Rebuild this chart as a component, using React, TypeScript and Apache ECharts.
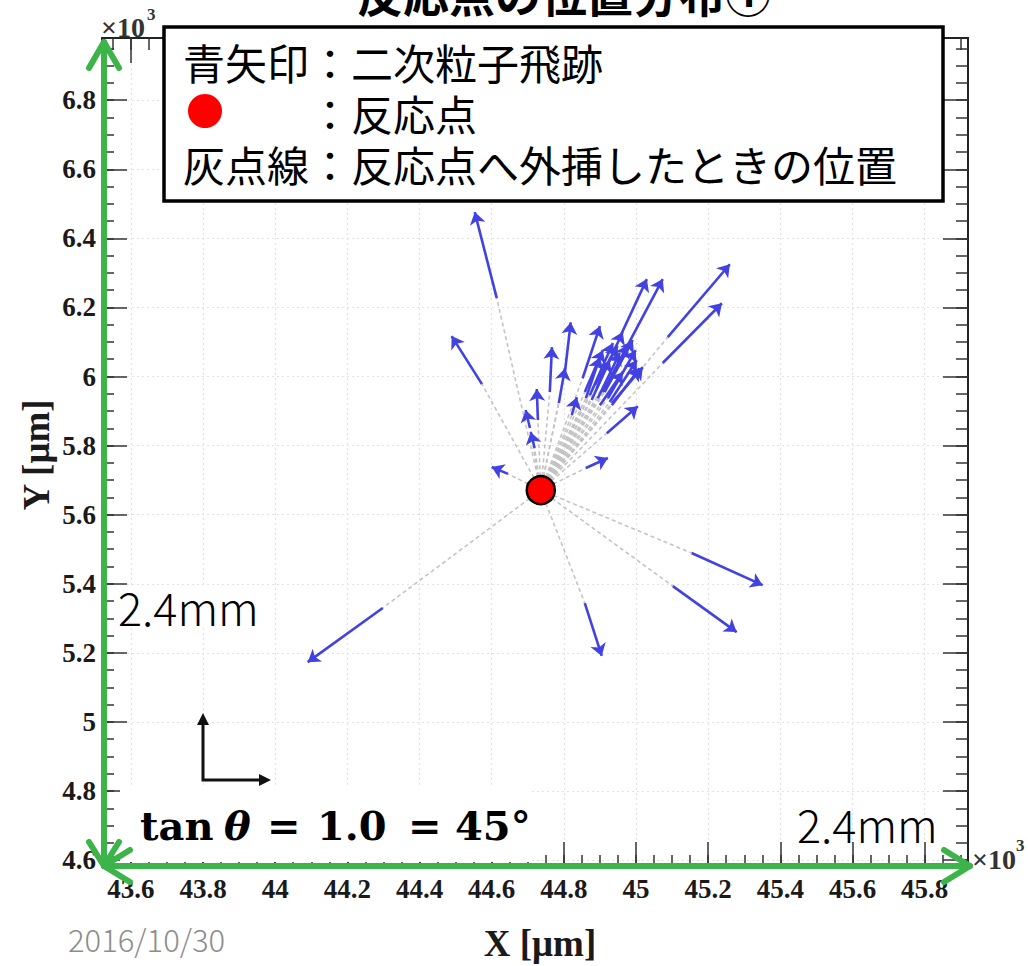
import React, { useEffect, useRef } from "react";
import * as echarts from "echarts";

// Axis ticks (x and y in units of 10^3 µm)
const xMajor = [43.6, 43.8, 44, 44.2, 44.4, 44.6, 44.8, 45, 45.2, 45.4, 45.6, 45.8];
const yMajor = [4.6, 4.8, 5, 5.2, 5.4, 5.6, 5.8, 6, 6.2, 6.4, 6.6, 6.8];
const xRange = [43.52, 45.92];
const yRange = [4.58, 6.98];

// Reaction vertex
const reactionPoint = [44.736, 5.671];

// Secondary-particle tracks: tail (start) and head (end) of each arrow
const tailX = [44.614, 44.573, 44.645, 44.861, 44.298, 44.858, 45.102, 45.154, 45.088, 45.074, 44.958, 44.974, 44.852, 44.803, 44.786, 44.761, 44.728, 44.706, 44.719, 44.919, 44.933, 44.822, 44.858, 44.872, 44.891, 44.913, 44.922, 44.927, 44.933, 44.877, 44.861, 44.894, 44.908, 44.900, 44.886];
const tailY = [6.227, 5.978, 5.718, 5.735, 5.330, 5.344, 5.393, 5.489, 6.114, 6.039, 6.120, 6.085, 5.995, 6.013, 5.923, 5.955, 5.874, 5.851, 5.793, 5.836, 5.923, 5.888, 5.955, 5.946, 5.966, 5.955, 5.937, 5.926, 5.917, 5.932, 5.937, 5.937, 5.955, 5.917, 5.975];
const headX = [44.553, 44.489, 44.600, 44.922, 44.090, 44.905, 45.279, 45.351, 45.260, 45.238, 45.030, 45.074, 44.900, 44.819, 44.803, 44.767, 44.725, 44.694, 44.708, 45.005, 45.019, 44.836, 44.908, 44.936, 44.963, 44.991, 44.999, 45.002, 45.010, 44.927, 44.900, 44.955, 44.977, 44.963, 44.949];
const headY = [6.476, 6.117, 5.738, 5.764, 5.173, 5.191, 5.260, 5.396, 6.325, 6.212, 6.282, 6.282, 6.146, 6.157, 6.024, 6.085, 5.964, 5.903, 5.839, 5.914, 6.027, 5.940, 6.076, 6.097, 6.129, 6.105, 6.076, 6.047, 6.024, 6.047, 6.056, 6.068, 6.091, 6.013, 6.088];

// Legend lines; the second line is indented so its colon sits under the first one
const legendRows = ["青矢印：二次粒子飛跡", "　　　：反応点", "灰点線：反応点へ外挿したときの位置"];

function minorTicks(min: number, max: number, step: number): number[] {
  const out: number[] = [];
  const start = Math.ceil(min / step - 1e-9);
  for (let i = start; i * step <= max + 1e-9; i++) out.push(Math.round(i * step * 1000) / 1000);
  return out;
}

const SERIF = "Liberation Serif";
const JP = "Noto Sans CJK JP";
const GREEN = "#3cb44a";
const labelStyle = { fontFamily: SERIF, fontWeight: "bold" as const, fontSize: 27, color: "#1a1a1a" };
const tickLine = { color: "#333", width: 1.5 };

function frameAxis(position: string, major: number[], range: number[], isX: boolean, withLabels: boolean, minor: boolean) {
  return {
    type: "value",
    position,
    min: range[0],
    max: range[1],
    axisLine: { show: !minor, onZero: false, lineStyle: { color: "#222", width: 2 } },
    axisTick: {
      show: true,
      inside: true,
      length: minor ? 12 : 25,
      customValues: minor ? minorTicks(range[0], range[1], 0.05) : major,
      lineStyle: tickLine,
    },
    axisLabel: withLabels
      ? { show: true, customValues: major, margin: isX ? 8 : 6, ...labelStyle }
      : { show: false },
    splitLine: withLabels
      ? { show: true, lineStyle: { color: "#e2e2e2", width: 1.2, type: [2, 3] } }
      : { show: false },
  };
}

export default function App() {
  const ref = useRef<HTMLDivElement>(null);

  useEffect(() => {
    if (!ref.current) return;
    const chart = echarts.init(ref.current, undefined, { renderer: "svg" });

    const extrapolations = tailX.map((x, i) => ({ coords: [reactionPoint, [x, tailY[i]]] }));
    const tracks = tailX.map((x, i) => ({ coords: [[x, tailY[i]], [headX[i], headY[i]]] }));

    const green = (points: number[][]) => ({
      type: "polyline",
      z: 70,
      shape: { points },
      style: { stroke: GREEN, lineWidth: 6, fill: null, lineCap: "round", lineJoin: "round" },
    });
    const text = (
      x: number,
      y: number,
      t: string,
      family: string,
      size: number,
      weight: string | number = "normal",
      extra: any = {}
    ) => ({
      type: "text",
      x,
      y,
      z: 90,
      style: {
        text: t,
        fontFamily: family,
        fontSize: size,
        fontWeight: weight,
        fill: "#000",
        align: "left",
        verticalAlign: "middle",
        ...extra,
      },
    });

    chart.setOption({
      animation: false,
      backgroundColor: "#fff",
      grid: { left: 102, top: 38, width: 866, height: 829, containLabel: false },
      xAxis: [
        frameAxis("bottom", xMajor, xRange, true, true, false),
        frameAxis("bottom", xMajor, xRange, true, false, true),
        frameAxis("top", xMajor, xRange, true, false, false),
        frameAxis("top", xMajor, xRange, true, false, true),
      ],
      yAxis: [
        frameAxis("left", yMajor, yRange, false, true, false),
        frameAxis("left", yMajor, yRange, false, false, true),
        frameAxis("right", yMajor, yRange, false, false, false),
        frameAxis("right", yMajor, yRange, false, false, true),
      ],
      series: [
        {
          name: "extrapolation",
          type: "lines",
          coordinateSystem: "cartesian2d",
          xAxisIndex: 0,
          yAxisIndex: 0,
          z: 3,
          symbol: "none",
          lineStyle: { color: "#c4c4c4", width: 1.6, type: [4, 3], opacity: 1 },
          data: extrapolations,
        },
        {
          name: "tracks",
          type: "lines",
          coordinateSystem: "cartesian2d",
          xAxisIndex: 0,
          yAxisIndex: 0,
          z: 4,
          symbol: ["none", "arrow"],
          symbolSize: 12,
          lineStyle: { color: "#4242e2", width: 2.6, opacity: 1 },
          data: tracks,
        },
        {
          name: "reaction",
          type: "scatter",
          xAxisIndex: 0,
          yAxisIndex: 0,
          z: 5,
          symbolSize: 28,
          itemStyle: { color: "#ff0000", borderColor: "#000", borderWidth: 2.5, opacity: 1 },
          data: [reactionPoint],
        },
      ],
      graphic: [
        // title, mostly above the top edge of the page
        {
          type: "text",
          x: 564,
          y: 15,
          z: 40,
          style: {
            text: "反応点の位置分布①",
            fontFamily: JP,
            fontSize: 46,
            fontWeight: "bold",
            fill: "#000",
            align: "center",
            verticalAlign: "bottom",
          },
        },
        // exponent markers
        text(101, 27, "×10", SERIF, 28, "bold", { fill: "#333" }),
        text(147, 14, "3", SERIF, 17, "bold", { fill: "#333" }),
        text(972, 859, "×10", SERIF, 28, "bold", { fill: "#333" }),
        text(1016, 845, "3", SERIF, 17, "bold", { fill: "#333" }),
        // axis titles
        {
          type: "text",
          x: 36,
          y: 455,
          rotation: Math.PI / 2,
          z: 90,
          style: { text: "Y [μm]", fontFamily: SERIF, fontSize: 37, fontWeight: "bold", fill: "#1a1a1a", align: "center", verticalAlign: "middle" },
        },
        {
          type: "text",
          x: 540,
          y: 943,
          z: 90,
          style: { text: "X [μm]", fontFamily: SERIF, fontSize: 37, fontWeight: "bold", fill: "#1a1a1a", align: "center", verticalAlign: "middle" },
        },
        text(68, 938, "2016/10/30", JP, 31, 300, { fill: "#8c8c8c" }),
        // boxes behind annotation texts
        { type: "rect", z: 50, shape: { x: 120, y: 786, width: 411, height: 76 }, style: { fill: "#fff" } },
        { type: "rect", z: 50, shape: { x: 118, y: 587, width: 150, height: 38 }, style: { fill: "#fff" } },
        text(118, 606, "2.4mm", JP, 45, 300),
        text(797, 823, "2.4mm", JP, 45, 300),
        // tan θ = 1.0 = 45°
        text(140, 825, "tan", "DejaVu Serif", 40, "bold"),
        text(224, 825, "θ", "DejaVu Serif", 40, "bold", { fontStyle: "italic" }),
        text(267, 825, "=", "DejaVu Serif", 40, "bold"),
        text(317, 825, "1.0", "DejaVu Serif", 40, "bold"),
        text(408, 825, "=", "DejaVu Serif", 40, "bold"),
        text(455, 825, "45°", "DejaVu Serif", 40, "bold"),
        // small orientation arrows
        { type: "polyline", z: 60, shape: { points: [[203, 720], [203, 780], [264, 780]] }, style: { stroke: "#111", lineWidth: 3, fill: null } },
        { type: "polygon", z: 60, shape: { points: [[203, 713], [197, 725], [209, 725]] }, style: { fill: "#111" } },
        { type: "polygon", z: 60, shape: { points: [[271, 780], [259, 774], [259, 786]] }, style: { fill: "#111" } },
        // green 2.4 mm extent markers
        green([[104, 42], [104, 866], [970, 866]]),
        green([[89, 68], [104, 42], [119, 68]]),
        green([[89, 842], [104, 866], [119, 842]]),
        green([[130, 850], [104, 866], [130, 882]]),
        green([[944, 850], [970, 866], [944, 882]]),
        // legend box
        { type: "rect", z: 80, shape: { x: 164, y: 27, width: 779, height: 174 }, style: { fill: "#fff", stroke: "#000", lineWidth: 3.5 } },
        { type: "circle", z: 90, shape: { cx: 205, cy: 111, r: 17 }, style: { fill: "#ff0000" } },
        text(183, 112, legendRows.join("\n"), JP, 42, "normal", { lineHeight: 51 }),
      ],
    });

    return () => chart.dispose();
  }, []);

  return (
    <div
      ref={ref}
      style={{ position: "fixed", left: 0, top: 0, width: 1028, height: 966, background: "#fff" }}
    />
  );
}
